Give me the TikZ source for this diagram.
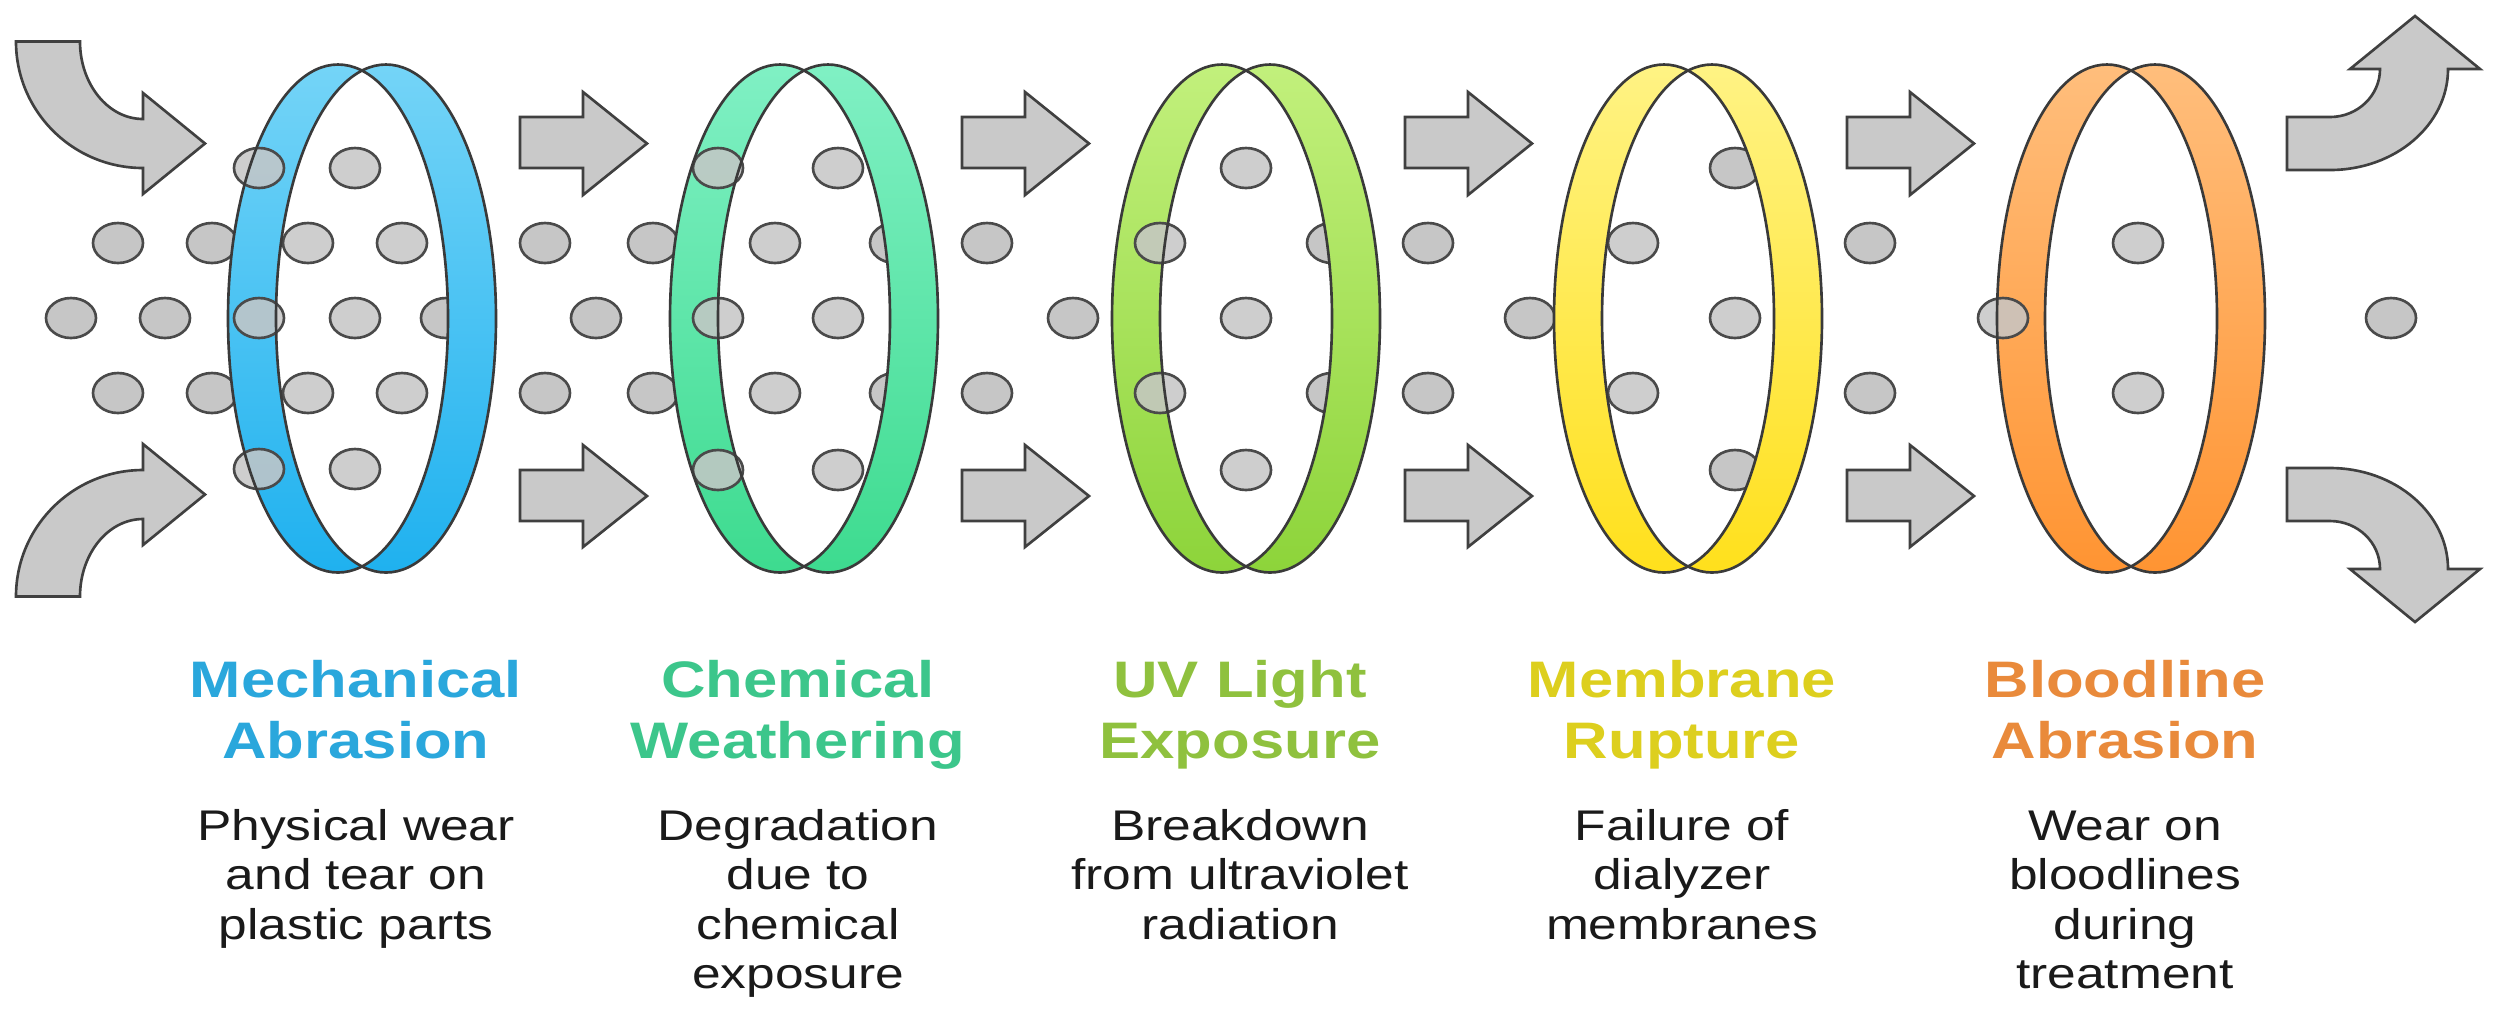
\documentclass[tikz,border=0pt]{standalone}
\usepackage{fontspec}
\setmainfont{Liberation Sans}
\usepackage{graphicx}
\definecolor{arrfill}{HTML}{C9C9C9}
\definecolor{arrdraw}{HTML}{404040}
\definecolor{dotfill}{HTML}{C6C6C6}
\definecolor{dotdraw}{HTML}{4A4A4A}
\definecolor{ringdraw}{HTML}{3A3A3A}
\definecolor{txt}{HTML}{1A1A1A}
\definecolor{aTop}{HTML}{74D4F7}\definecolor{aBot}{HTML}{1FB1EF}\definecolor{aTxt}{HTML}{2AA7DC}
\definecolor{bTop}{HTML}{80F0C4}\definecolor{bBot}{HTML}{3DDB8F}\definecolor{bTxt}{HTML}{3CC68B}
\definecolor{cTop}{HTML}{C2F07C}\definecolor{cBot}{HTML}{8DD43A}\definecolor{cTxt}{HTML}{8FC13E}
\definecolor{dTop}{HTML}{FFF384}\definecolor{dBot}{HTML}{FFE01C}\definecolor{dTxt}{HTML}{DDCF1E}
\definecolor{eTop}{HTML}{FFBE7C}\definecolor{eBot}{HTML}{FF9432}\definecolor{eTxt}{HTML}{E98A3B}
\newcommand{\wtext}[1]{\scalebox{1.2}[1]{\begin{tabular}[t]{@{}c@{}}#1\end{tabular}}}
\tikzset{
  arrsty/.style={fill=arrfill, draw=arrdraw, line width=0.75pt, line join=miter},
  dotsty/.style={fill=dotfill, draw=dotdraw, line width=0.75pt},
  ringline/.style={draw=ringdraw, line width=0.75pt},
  titlesty/.style={anchor=base, inner sep=0pt, font=\fontsize{14.6pt}{17.6pt}\selectfont\bfseries},
  descsty/.style={anchor=base, inner sep=0pt, text=txt, font=\fontsize{12.2pt}{14.1pt}\selectfont}
}
\newcommand{\dotat}[2]{\path[dotsty] (#1,#2) ellipse [x radius=25, y radius=20];}
\newcommand{\dotover}[2]{\path[dotsty, fill opacity=0.85] (#1,#2) ellipse [x radius=25, y radius=20];}
\newcommand{\ringfill}[3]{\shade[top color=#2, bottom color=#3, even odd rule] (#1-24,318.5) ellipse [x radius=110, y radius=254] (#1+24,318.5) ellipse [x radius=110, y radius=254];}
\newcommand{\ringdraw}[1]{\path[ringline] (#1-24,318.5) ellipse [x radius=110, y radius=254]; \path[ringline] (#1+24,318.5) ellipse [x radius=110, y radius=254];}
\begin{document}
\begin{tikzpicture}[x=0.01cm, y=-0.01cm]
\fill[white] (0,0) rectangle (2500,1020);
\useasboundingbox (0,0) rectangle (2500,1020);

% curved arrows, left
\path[arrsty] (16,41.5) arc[start angle=180, end angle=90, x radius=127, y radius=126.5]
  -- (143,194) -- (205,143.5) -- (143,93) -- (143,119)
  arc[start angle=90, end angle=180, x radius=63, y radius=77.5] -- cycle;
\path[arrsty] (16,596.5) arc[start angle=180, end angle=270, x radius=127, y radius=126.5]
  -- (143,444) -- (205,494.5) -- (143,545) -- (143,519)
  arc[start angle=270, end angle=180, x radius=63, y radius=77.5] -- cycle;

% curved arrows, right
\path[arrsty] (2287,117) -- (2330,117) arc[start angle=90, end angle=0, x radius=50, y radius=48]
  -- (2350,69) -- (2415,16) -- (2480,69) -- (2448,69)
  arc[start angle=0, end angle=90, x radius=118, y radius=101] -- (2287,170) -- cycle;
\path[arrsty] (2287,521) -- (2330,521) arc[start angle=270, end angle=360, x radius=50, y radius=48]
  -- (2350,569) -- (2415,622) -- (2480,569) -- (2448,569)
  arc[start angle=360, end angle=270, x radius=118, y radius=101] -- (2287,468) -- cycle;

% straight arrows
\foreach \x in {520,962,1405,1847}{
  \path[arrsty] (\x,117) -- (\x+63,117) -- (\x+63,92) -- (\x+127,143.5) -- (\x+63,195) -- (\x+63,168) -- (\x,168) -- cycle;
  \path[arrsty] (\x,470) -- (\x+63,470) -- (\x+63,445) -- (\x+127,496) -- (\x+63,547) -- (\x+63,521) -- (\x,521) -- cycle;
}

% free dots
\foreach \p/\q in {118/243,118/393,71/318,165/318,545/243,545/393,596/318,987/243,987/393,1073/318,1428/243,1428/393,1870/243,1870/393,2391/318}{\dotat{\p}{\q}}

% ring 1
\foreach \p/\q in {212/243,212/393,446/318}{\dotat{\p}{\q}}
\ringfill{362}{aTop}{aBot}
\foreach \p/\q in {259/168,355/168,308/243,402/243,259/318,355/318,308/393,402/393,259/469,355/469}{\dotover{\p}{\q}}
\ringdraw{362}

% ring 2
\foreach \p/\q in {653/243,653/393,895/243,895/393}{\dotat{\p}{\q}}
\ringfill{804}{bTop}{bBot}
\foreach \p/\q in {718/168,838/168,775/243,718/318,838/318,775/393,718/470,838/470}{\dotover{\p}{\q}}
\ringdraw{804}

% ring 3
\foreach \p/\q in {1332/243,1332/393}{\dotat{\p}{\q}}
\ringfill{1246}{cTop}{cBot}
\foreach \p/\q in {1246/168,1160/243,1246/318,1160/393,1246/470}{\dotover{\p}{\q}}
\ringdraw{1246}

% ring 4
\foreach \p/\q in {1735/168,1530/318,1735/470}{\dotat{\p}{\q}}
\ringfill{1688}{dTop}{dBot}
\foreach \p/\q in {1633/243,1735/318,1633/393}{\dotover{\p}{\q}}
\ringdraw{1688}

% ring 5
\ringfill{2131}{eTop}{eBot}
\foreach \p/\q in {2138/243,2003/318,2138/393}{\dotover{\p}{\q}}
\ringdraw{2131}

% titles
\node[titlesty, text=aTxt] (t1) at (356,697) {\wtext{Mechanical\\Abrasion}};
\node[titlesty, text=bTxt] (t2) at (798,697) {\wtext{Chemical\\Weathering}};
\node[titlesty, text=cTxt] (t3) at (1240,697) {\wtext{UV Light\\Exposure}};
\node[titlesty, text=dTxt] (t4) at (1682,697) {\wtext{Membrane\\Rupture}};
\node[titlesty, text=eTxt] (t5) at (2125,697) {\wtext{Bloodline\\Abrasion}};

% descriptions
\node[descsty] (d1) at (356,840) {\wtext{Physical wear\\and tear on\\plastic parts}};
\node[descsty] (d2) at (798,840) {\wtext{Degradation\\due to\\chemical\\exposure}};
\node[descsty] (d3) at (1240,840) {\wtext{Breakdown\\from ultraviolet\\radiation}};
\node[descsty] (d4) at (1682,840) {\wtext{Failure of\\dialyzer\\membranes}};
\node[descsty] (d5) at (2125,840) {\wtext{Wear on\\bloodlines\\during\\treatment}};
\end{tikzpicture}
\end{document}
